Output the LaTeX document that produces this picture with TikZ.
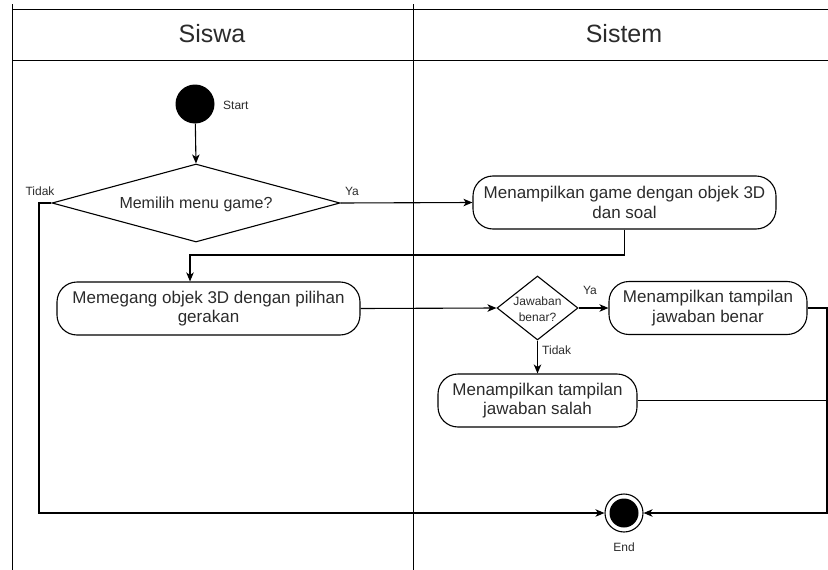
\documentclass[tikz,border=0pt]{standalone}
\usepackage{fontspec}
\setmainfont{Liberation Sans}
\usetikzlibrary{shapes.geometric,arrows.meta}
\definecolor{txt}{HTML}{2B2B2B}
\tikzset{
  lane/.style={line width=1pt,draw=black},
  actbox/.style={draw=black,line width=1.1pt,rounded corners=20pt,minimum height=53pt,inner sep=0pt,align=center,text=txt,font=\fontsize{17}{19.5}\selectfont},
  dec/.style={draw=black,line width=1.1pt,diamond,inner sep=0pt},
  flow/.style={line width=1.1pt,draw=black},
  arr/.style={flow,-{Stealth[length=9pt,width=7.5pt,inset=2.5pt]}},
  small/.style={text=txt,font=\fontsize{12}{14}\selectfont,inner sep=0pt},
  head/.style={text=txt,font=\fontsize{25}{28}\selectfont,inner sep=0pt}
}
\begin{document}
\begin{tikzpicture}[x=1pt,y=-1pt]
\useasboundingbox (0,0) rectangle (828,570);
% swimlanes
\draw[lane] (12,4) -- (12,570);
\draw[lane] (413,4) -- (413,570);
\draw[lane] (12,9) -- (828,9);
\draw[lane] (12,60) -- (828,60);
\node[head] (hsiswa) at (212,34) {Siswa};
\node[head] (hsistem) at (624,34) {Sistem};
% nodes
\node[circle,fill=black,minimum size=39pt,inner sep=0pt] (start) at (195,104) {};
\node[small,anchor=west] (startlbl) at (223,105) {Start};
\node[dec,minimum width=288pt,minimum height=78pt] (d1) at (196,203) {};
\node[text=txt,font=\fontsize{16}{18}\selectfont,inner sep=0pt] (d1t) at (196,204) {Memilih menu game?};
\node[small] (tidak1) at (40,191) {Tidak};
\node[small] (ya1) at (352,191) {Ya};
\node[actbox,minimum width=303pt] (box1) at (624.5,202.5) {Menampilkan game dengan objek 3D\\dan soal};
\node[actbox,minimum width=303pt] (box2) at (208.5,308.5) {Memegang objek 3D dengan pilihan\\gerakan};
\node[dec,minimum width=81pt,minimum height=64pt] (d2) at (537.5,308) {};
\node[small,align=center,font=\fontsize{12}{16}\selectfont] (d2t) at (537.5,309) {Jawaban\\benar?};
\node[small] (ya2) at (590,290) {Ya};
\node[small,anchor=west] (tidak2) at (542,350) {Tidak};
\node[actbox,minimum width=198pt] (box3) at (708,308) {Menampilkan tampilan\\jawaban benar};
\node[actbox,minimum width=199pt] (box4) at (537.5,400.5) {Menampilkan tampilan\\jawaban salah};
\node[circle,draw=black,line width=1.1pt,fill=white,minimum size=38pt,inner sep=0pt] (endn) at (624,513) {};
\node[circle,fill=black,minimum size=29pt,inner sep=0pt] (endin) at (endn) {};
\node[small] (endlbl) at (624,547) {End};
% coordinates
\coordinate (tl) at (39,203);
\coordinate (c2) at (190,255);
\coordinate (cr) at (827,308);
% connectors
\draw[arr] (start) -- (d1.north);
\draw[arr] (d1.east) -- (box1.west);
\draw[arr] (d1.west) -- (tl) |- (endn.west);
\draw[arr] (box1.south) |- (c2) -- (c2 |- box2.north);
\draw[arr] (box2.east) -- (d2.west);
\draw[arr] (d2.east) -- (box3.west);
\draw[arr] (d2.south) -- (box4.north);
\draw[arr] (box3.east) -- (cr) |- (endn.east);
\draw[flow] (box4.east) -- (box4.east -| cr);
\end{tikzpicture}
\end{document}
